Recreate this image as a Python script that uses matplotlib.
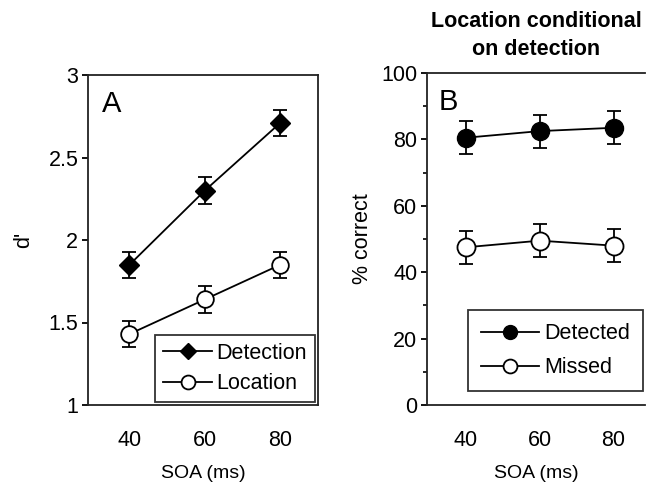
import matplotlib
matplotlib.use("Agg")
import matplotlib.pyplot as plt
from matplotlib.lines import Line2D
import numpy as np

plt.rcParams['font.family'] = ['Liberation Sans', 'DejaVu Sans']

soa = [40, 60, 80]
soa_labels = ['40', '60', '80']

detection = [1.85, 2.30, 2.71]
detection_err = [0.08, 0.08, 0.08]
location = [1.43, 1.64, 1.85]
location_err = [0.08, 0.08, 0.08]

detected = [80.5, 82.5, 83.5]
detected_err = [5.0, 5.0, 5.0]
missed = [47.5, 49.5, 48.0]
missed_err = [5.0, 5.0, 5.0]

W, H = 648, 488
fig = plt.figure(figsize=(W / 100, H / 100), dpi=100)

def px_axes(l, t, r, b):
    return fig.add_axes([l / W, 1 - b / H, (r - l) / W, (b - t) / H])

lc = '#222222'
fs = 15.5

# Panel A
axA = px_axes(88, 75, 318, 405)
axA.errorbar(soa, detection, yerr=detection_err, color='black', marker='D',
             markersize=10, mfc='black', mec='black', lw=1.3, capsize=5,
             elinewidth=1.3, capthick=1.3)
axA.errorbar(soa, location, yerr=location_err, color='black', marker='o',
             markersize=12, mfc='white', mec='black', mew=1.3, lw=1.3, capsize=5,
             elinewidth=1.3, capthick=1.3)
axA.set_xlim(29, 90)
axA.set_ylim(1, 3)
axA.set_yticks([1, 1.5, 2, 2.5, 3])
axA.set_yticklabels(['1', '1.5', '2', '2.5', '3'])
axA.set_ylabel("d'", fontsize=fs, labelpad=10)
axA.text(0.062, 0.955, 'A', transform=axA.transAxes, fontsize=21, va='top', ha='left')
hA = [Line2D([], [], color='black', lw=1.3, marker='D', markersize=8, mfc='black'),
      Line2D([], [], color='black', lw=1.3, marker='o', markersize=10, mfc='white', mew=1.3)]
legA = axA.legend(hA, ['Detection', 'Location'], loc='lower right', fontsize=fs,
                  frameon=True, fancybox=False, edgecolor='black', handlelength=2.3,
                  borderpad=0.35, labelspacing=0.45, handletextpad=0.2,
                  borderaxespad=0.15)
legA.get_frame().set_linewidth(1.3)

# Panel B
axB = px_axes(427, 73, 645, 405)
axB.errorbar(soa, detected, yerr=detected_err, color='black', marker='o',
             markersize=13, mfc='black', mec='black', lw=1.3, capsize=5,
             elinewidth=1.3, capthick=1.3)
axB.errorbar(soa, missed, yerr=missed_err, color='black', marker='o',
             markersize=13, mfc='white', mec='black', mew=1.3, lw=1.3, capsize=5,
             elinewidth=1.3, capthick=1.3)
axB.set_xlim(29.5, 88.5)
axB.set_ylim(0, 100)
axB.set_yticks([0, 20, 40, 60, 80, 100])
axB.set_yticks([10, 30, 50, 70, 90], minor=True)
axB.set_ylabel('% correct', fontsize=fs, labelpad=6)
axB.text(0.055, 0.955, 'B', transform=axB.transAxes, fontsize=21, va='top', ha='left')
axB.set_title('Location conditional\non detection', fontsize=15.5, fontweight='bold',
              pad=13, linespacing=1.45)
axB.spines['right'].set_visible(False)
hB = [Line2D([], [], color='black', lw=1.3, marker='o', markersize=10, mfc='black'),
      Line2D([], [], color='black', lw=1.3, marker='o', markersize=10, mfc='white', mew=1.3)]
legB = axB.legend(hB, ['Detected', 'Missed'], loc='lower right', fontsize=fs,
                  frameon=True, fancybox=False, edgecolor='black', handlelength=2.7,
                  borderpad=0.6, labelspacing=0.6, handletextpad=0.25,
                  borderaxespad=0.0, bbox_to_anchor=(0.99, 0.042))
legB.get_frame().set_linewidth(1.3)

for ax in (axA, axB):
    ax.set_xticks(soa)
    ax.set_xticklabels(soa_labels)
    ax.tick_params(axis='x', length=0, pad=18, labelsize=fs)
    ax.tick_params(axis='y', which='major', direction='out', length=4, width=1.3,
                   labelsize=fs, pad=3)
    ax.tick_params(axis='y', which='minor', direction='out', length=3, width=1.2)
    ax.set_xlabel('SOA (ms)', fontsize=14, labelpad=10)
    for s in ax.spines.values():
        s.set_linewidth(1.3)
        s.set_color(lc)

fig.savefig('out.png', dpi=100)
